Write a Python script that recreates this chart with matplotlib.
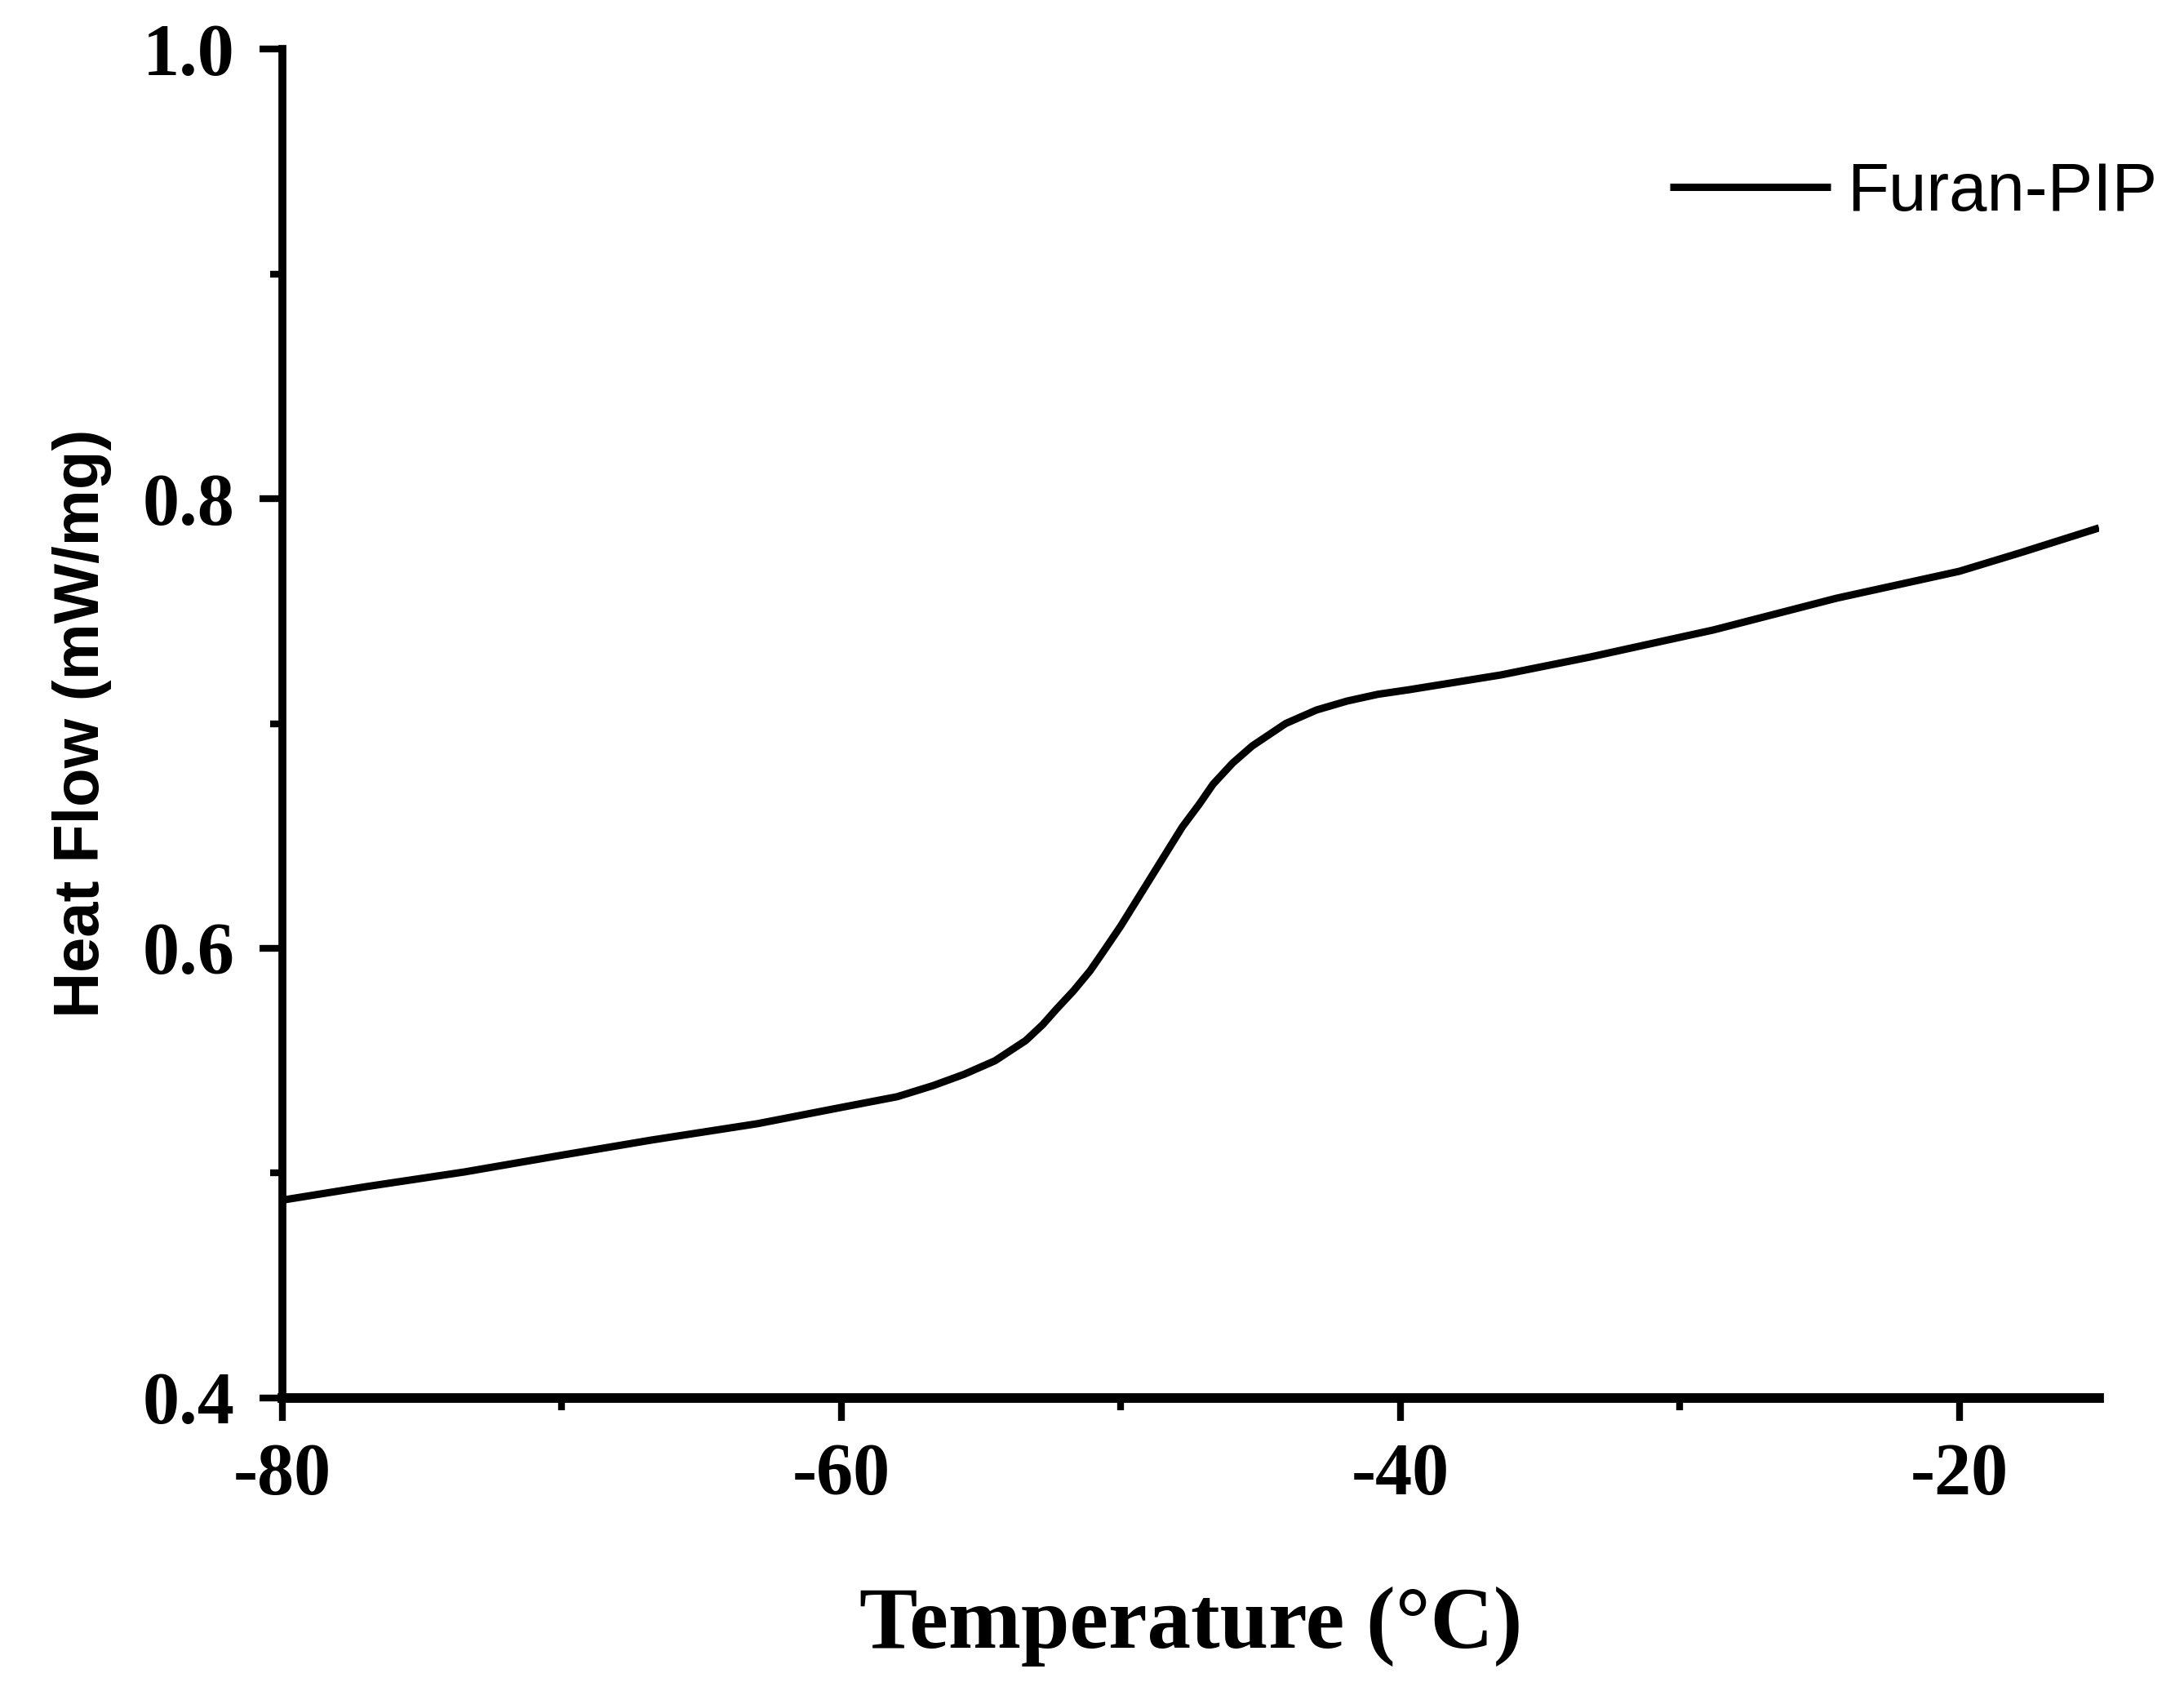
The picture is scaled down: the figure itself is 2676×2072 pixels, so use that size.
import numpy as np
import matplotlib
matplotlib.use("Agg")
import matplotlib.pyplot as plt
from matplotlib.ticker import MultipleLocator

plt.rcParams['axes.unicode_minus'] = False

# ---------------- data ----------------
temp = [-80, -77, -73.5, -70, -66.8, -63, -60.1, -58, -56.7, -55.6,
        -54.5, -53.4, -52.8, -52.3, -51.7, -51.1, -50.6, -50.0, -49.5,
        -48.9, -48.35, -47.8, -47.2, -46.7, -46.0, -45.3, -44.1, -43.0,
        -41.9, -40.8, -39.7, -36.4, -33.2, -28.8, -24.4, -20.0, -17.8, -15]
heat_flow = [0.488, 0.494, 0.5005, 0.508, 0.5147, 0.522, 0.529, 0.534, 0.539, 0.544,
             0.550, 0.559, 0.566, 0.573, 0.581, 0.590, 0.599, 0.610, 0.620,
             0.632, 0.643, 0.654, 0.664, 0.673, 0.6824, 0.690, 0.700, 0.706,
             0.710, 0.713, 0.715, 0.7216, 0.7296, 0.7416, 0.7557, 0.7677, 0.776, 0.787]
series_name = 'Furan-PIP'
xticks = [-80, -60, -40, -20]
yticks = [0.4, 0.6, 0.8, 1.0]

serif = ['Liberation Serif', 'DejaVu Serif']
sans = ['Liberation Sans', 'DejaVu Sans']

# ---------------- figure ----------------
fig = plt.figure(figsize=(26.76, 20.72), dpi=100)
ax = fig.add_axes([0.1293, 0.1733, 0.8318, 0.7977])

ax.plot(temp, heat_flow, color='black', lw=6.5, label=series_name,
        solid_capstyle='butt', solid_joinstyle='round')

ax.set_xlim(-80, -15)
ax.set_ylim(0.4, 1.0)
ax.set_xticks(xticks)
ax.set_yticks(yticks)
ax.xaxis.set_minor_locator(MultipleLocator(10))
ax.yaxis.set_minor_locator(MultipleLocator(0.1))
ax.set_yticklabels(['%.1f' % v for v in yticks])

for s in ['top', 'right']:
    ax.spines[s].set_visible(False)
ax.spines['left'].set_linewidth(7)
ax.spines['bottom'].set_linewidth(8.5)

ax.tick_params(which='major', direction='out', length=20, width=6, pad=20)
ax.tick_params(which='minor', direction='out', length=11, width=6)
ax.tick_params(axis='y', which='major', pad=22)

for lab in ax.get_xticklabels() + ax.get_yticklabels():
    lab.set_family(serif)
    lab.set_fontweight('bold')
    lab.set_fontsize(65)

ax.set_xlabel('Temperature (°C)', family=serif, fontweight='bold', fontsize=77)
ax.xaxis.label.set_va('baseline')
ax.xaxis.set_label_coords(0.5, -0.185)

ax.set_ylabel('Heat Flow (mW/mg)', family=sans, fontweight='bold', fontsize=56)
ax.yaxis.label.set_va('baseline')
ax.yaxis.set_label_coords(-0.101, 0.5)

leg = ax.legend(loc='center left', bbox_to_anchor=(0.7646, 0.886),
                bbox_transform=fig.transFigure, frameon=False,
                prop={'family': sans, 'size': 60},
                handlelength=2.36, handletextpad=0.25,
                borderpad=0, borderaxespad=0)

fig.savefig('out.png', dpi=100)
